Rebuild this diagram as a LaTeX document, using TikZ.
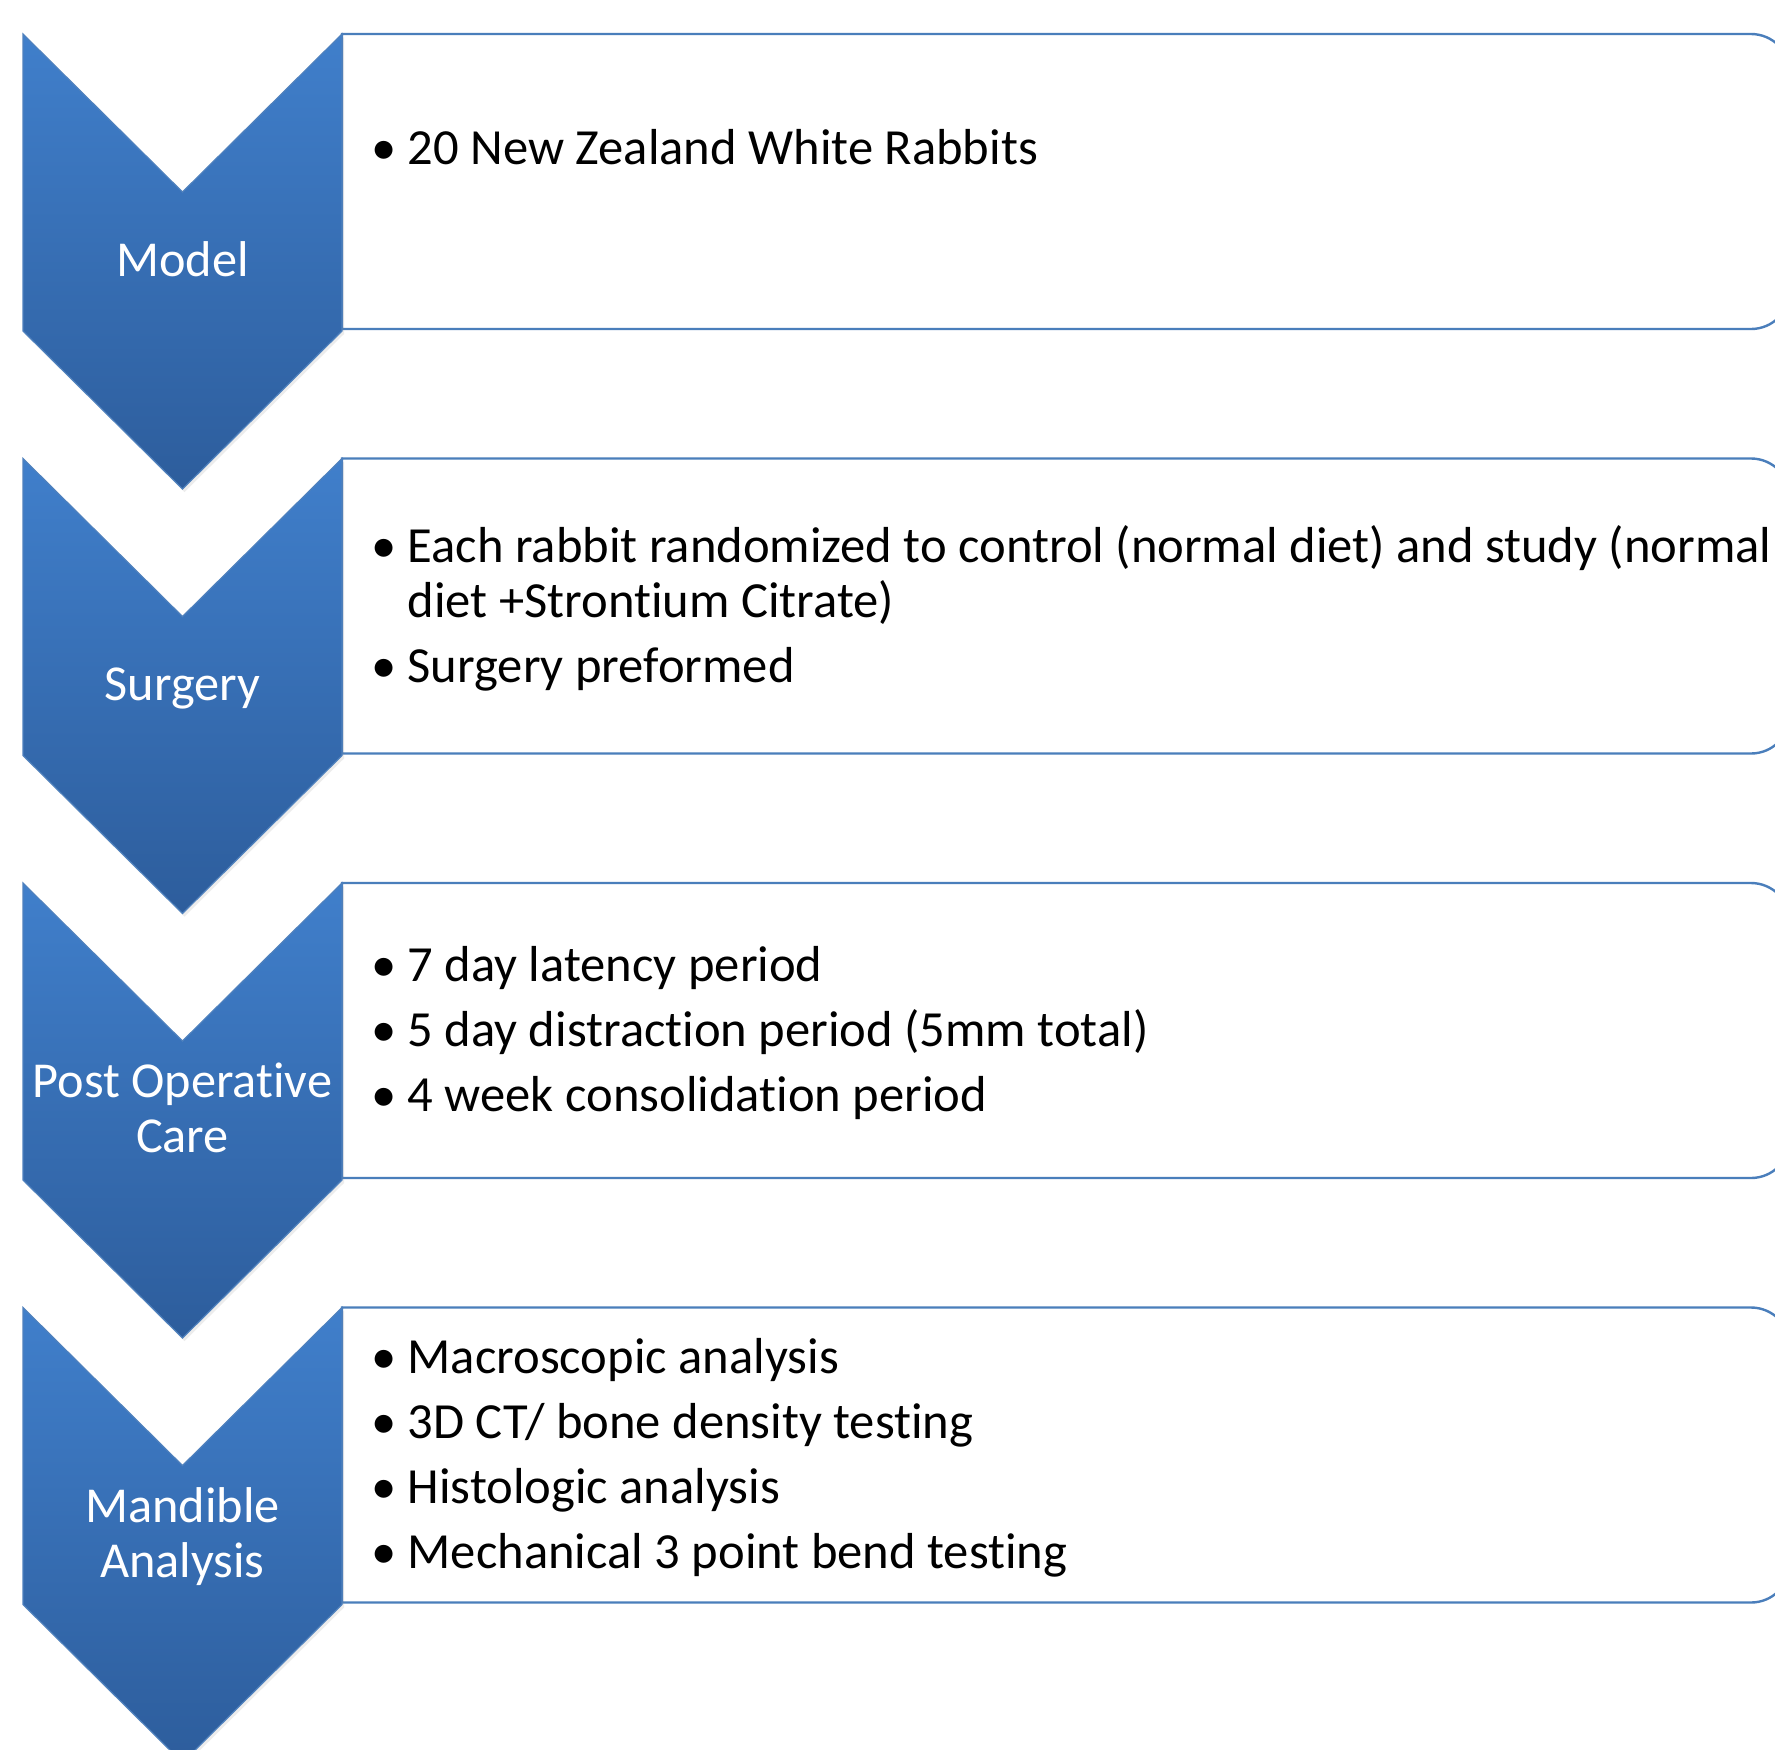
\documentclass[tikz,border=0pt]{standalone}
\usepackage{fontspec}
\setmainfont{Carlito}[Ligatures=NoCommon]
\usetikzlibrary{shadows}

\definecolor{chevtop}{RGB}{64,127,203}
\definecolor{chevbot}{RGB}{45,93,156}
\definecolor{chevline}{RGB}{79,129,189}
\definecolor{boxline}{RGB}{74,126,187}

\newcommand{\bul}{\makebox[36.5pt][l]{\textbullet}}
\newcommand{\hang}{\hspace*{36.5pt}}

\begin{document}
\begin{tikzpicture}[x=1pt,y=-1pt,
    chevron/.style={draw=chevline,line width=1.2pt,top color=chevtop,bottom color=chevbot,
        drop shadow={shadow xshift=2pt,shadow yshift=-3pt,opacity=0.15}},
    stepbox/.style={draw=boxline,line width=2.4pt,fill=white},
    chevlabel/.style={text=white,font=\fontsize{50.3}{55}\selectfont,align=center,anchor=base,inner sep=0pt},
    bullets/.style={font=\fontsize{50.6}{55}\selectfont,align=left,anchor=base west,inner sep=0pt}]

    \useasboundingbox (0,0) rectangle (1775,1749);
    \clip (0,0) rectangle (1775,1749);
    \fill[white] (0,0) rectangle (1775,1749);

    % boxes and chevrons, one per stage
    \foreach \r in {0,1,2,3} {
        \pgfmathsetmacro{\t}{34+424.5*\r}
        \draw[stepbox] (342,\t) -- (1751,\t) arc[start angle=-90,end angle=0,radius=39]
            -- (1790,\t+256) arc[start angle=0,end angle=90,radius=39] -- (342,\t+295) -- cycle;
        \path[chevron] (23,\t) -- (182.5,\t+158) -- (342,\t) -- (342,\t+297)
            -- (182.5,\t+455) -- (23,\t+297) -- cycle;
    }

    % labels (anchor = baseline of last line)
    \node[chevlabel] (model) at (182.5,276) {Model};
    \node[chevlabel] (surgery) at (182.5,700.5) {Surgery};
    \node[chevlabel] (postop) at (182.5,1152) {Post Operative\\Care};
    \node[chevlabel] (mandible) at (182.5,1577) {Mandible\\Analysis};

    \node[bullets] (model-list) at (371,164) {\bul 20 New Zealand White Rabbits};
    \node[bullets] (surgery-list) at (371,682) {\bul Each rabbit randomized to control (normal diet) and study (normal\\
        \hang diet +Strontium Citrate)\\[10pt]
        \bul Surgery preformed};
    \node[bullets] (postop-list) at (371,1111) {\bul 7 day latency period\\[10pt]
        \bul 5 day distraction period (5mm total)\\[10pt]
        \bul 4 week consolidation period};
    \node[bullets] (mandible-list) at (371,1568) {\bul Macroscopic analysis\\[10pt]
        \bul 3D CT/ bone density testing\\[10pt]
        \bul Histologic analysis\\[10pt]
        \bul Mechanical 3 point bend testing};

\end{tikzpicture}
\end{document}
